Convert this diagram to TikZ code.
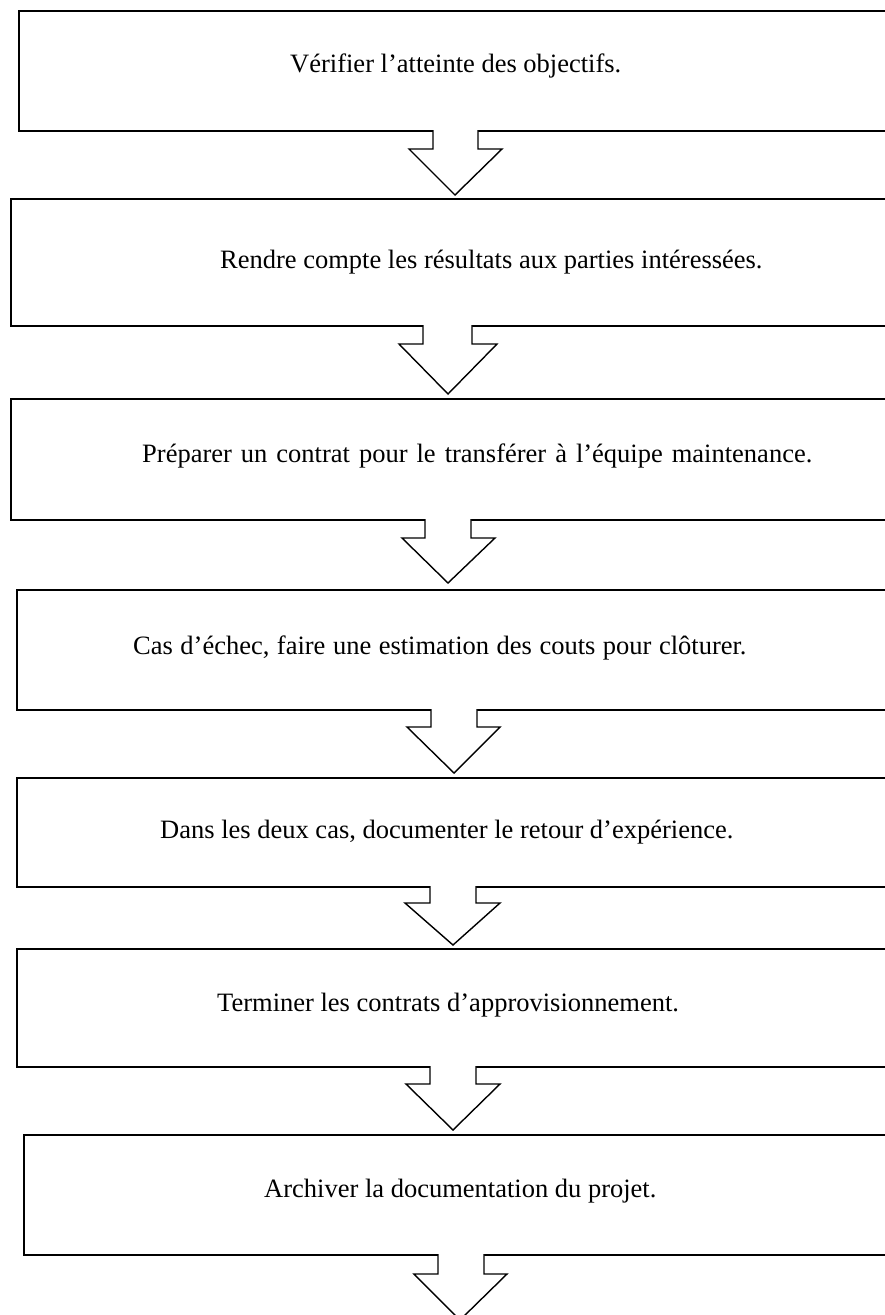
\documentclass[tikz,border=0pt]{standalone}
\usepackage{fontspec}
\setmainfont{Liberation Serif}
\begin{document}
\begin{tikzpicture}[x=1pt,y=-1pt,
  stepbox/.style={draw=black,line width=1.7pt,rectangle,inner sep=0pt,anchor=north west},
  steptext/.style={anchor=base west,inner sep=0pt,font=\fontsize{26.5}{30}\selectfont},
  flow/.style={draw=black,line width=1.4pt,line join=miter}]
\useasboundingbox (0,0) rectangle (885,1315);
\clip (0,0) rectangle (885,1315);
\fill[white] (0,0) rectangle (885,1315);

% process boxes (right edges run off the page)
\node[stepbox,minimum width=900pt,minimum height=120pt] (b1) at (18,10) {};
\node[stepbox,minimum width=900pt,minimum height=127pt] (b2) at (10,198) {};
\node[stepbox,minimum width=900pt,minimum height=121pt] (b3) at (10,398) {};
\node[stepbox,minimum width=900pt,minimum height=120pt] (b4) at (16,589) {};
\node[stepbox,minimum width=900pt,minimum height=109pt] (b5) at (16,777) {};
\node[stepbox,minimum width=900pt,minimum height=118pt] (b6) at (16,948) {};
\node[stepbox,minimum width=900pt,minimum height=120pt] (b7) at (23,1134) {};

% labels
\node[steptext] (t1) at (290,72) {Vérifier l’atteinte des objectifs.};
\node[steptext] (t2) at (220,268) {Rendre compte les résultats aux parties intéressées.};
\node[steptext] (t3) at (142,462) {\spaceskip=9pt Préparer un contrat pour le transférer à l’équipe maintenance.};
\node[steptext] (t4) at (133,654) {\spaceskip=7.5pt Cas d’échec, faire une estimation des couts pour clôturer.};
\node[steptext] (t5) at (160,838) {Dans les deux cas, documenter le retour d’expérience.};
\node[steptext] (t6) at (217,1011) {Terminer les contrats d’approvisionnement.};
\node[steptext] (t7) at (264,1197) {Archiver la documentation du projet.};

% block arrows: #1 shaft left, #2 shaft right, #3 top, #4 shaft bottom,
% #5 head left, #6 head right, #7 tip x, #8 tip y
\newcommand{\blockarrow}[8]{%
  \fill[white] (#1,#3-2) -- (#1,#4) -- (#5,#4) -- (#7,#8) -- (#6,#4) -- (#2,#4) -- (#2,#3-2) -- cycle;
  \draw[flow] (#1,#3) -- (#1,#4) -- (#5,#4) -- (#7,#8) -- (#6,#4) -- (#2,#4) -- (#2,#3);
}
\blockarrow{433}{478}{130}{149}{409}{502}{455}{195}
\blockarrow{423}{472}{325}{344}{399}{497}{448}{394}
\blockarrow{425}{471}{519}{538}{402}{495}{448}{583}
\blockarrow{431}{477}{709}{727}{407}{500}{454}{773}
\blockarrow{430}{476}{886}{903}{405}{500}{453}{945}
\blockarrow{430}{476}{1066}{1084}{406}{500}{453}{1130}
\blockarrow{438}{484}{1254}{1274}{414}{507}{460}{1320}
\end{tikzpicture}
\end{document}
